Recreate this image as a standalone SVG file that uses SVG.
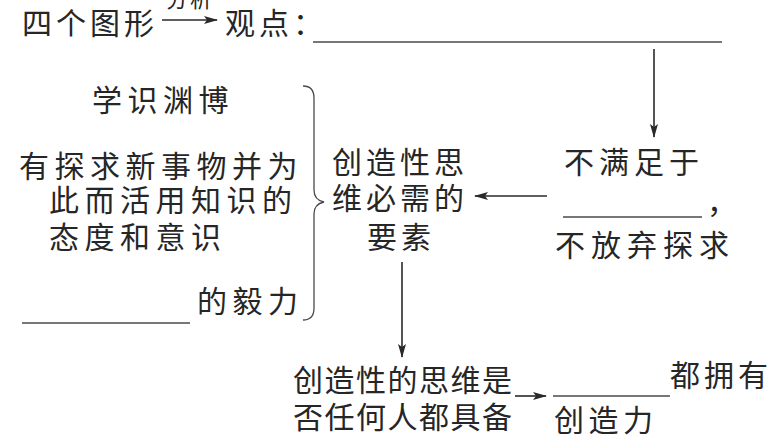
<svg xmlns="http://www.w3.org/2000/svg" width="781" height="446" viewBox="0 0 781 446">
<defs>
<marker id="ah" markerWidth="14" markerHeight="10" refX="13" refY="5" orient="auto" markerUnits="userSpaceOnUse">
<path d="M0,1 L14,5 L0,9 L3,5 Z" fill="#2a2a2a"/>
</marker>
</defs>
<style>
text{font-family:"Noto Sans CJK SC","Noto Sans CJK TC",sans-serif;font-size:30px;fill:#262626;letter-spacing:5.5px}
.t{letter-spacing:1.5px}
.s{font-size:22px;letter-spacing:2px}
.ln{stroke:#4a4a4a;stroke-width:1.3;fill:none}
.ar{stroke:#2a2a2a;stroke-width:1.6;fill:none;marker-end:url(#ah)}
</style>
<rect width="781" height="446" fill="#fff"/>
<g id="title">
<text x="22" y="34" style="letter-spacing:4px">四个图形</text>
<text x="225" y="34" style="letter-spacing:4px">观点：</text>
<text class="s" x="166" y="7">分析</text>
</g>
<g id="blanks">
<line class="ln" x1="313" y1="42" x2="722" y2="42"/>
<line class="ln" x1="22" y1="323" x2="190" y2="323"/>
<line class="ln" x1="563" y1="217" x2="702" y2="217"/>
<line class="ln" x1="553" y1="396" x2="670" y2="396"/>
</g>
<g id="left">
<text x="92" y="111">学识渊博</text>
<text x="19" y="177">有探求新事物并为</text>
<text x="49" y="211">此而活用知识的</text>
<text x="49" y="248">态度和意识</text>
<text x="197" y="312">的毅力</text>
<path class="ln" d="M303,86 Q314,86 314,98 L314,190 Q314,200 324,202 Q314,204 314,214 L314,308 Q314,320 303,320" stroke-width="1.5"/>
</g>
<g id="center">
<text x="332" y="173" style="letter-spacing:4px">创造性思</text>
<text x="332" y="209" style="letter-spacing:4px">维必需的</text>
<text x="367" y="248" style="letter-spacing:4px">要素</text>
</g>
<g id="right">
<text x="564" y="173" style="letter-spacing:5px">不满足于</text>
<text x="707" y="213">，</text>
<text x="555" y="256" style="letter-spacing:6px">不放弃探求</text>
</g>
<g id="bottom">
<text class="t" x="293" y="391">创造性的思维是</text>
<text class="t" x="293" y="428">否任何人都具备</text>
</g>
<g id="result">
<text x="670" y="386" style="letter-spacing:4px">都拥有</text>
<text x="554" y="431" style="letter-spacing:4.5px">创造力</text>
</g>
<g id="connectors">
<line class="ar" x1="162" y1="20" x2="217" y2="20"/>
<line class="ar" x1="654" y1="49" x2="654" y2="137"/>
<line class="ar" x1="547" y1="196" x2="475" y2="196"/>
<line class="ar" x1="402" y1="262" x2="402" y2="357"/>
<line class="ar" x1="515" y1="396" x2="546" y2="396"/>
</g>
</svg>
